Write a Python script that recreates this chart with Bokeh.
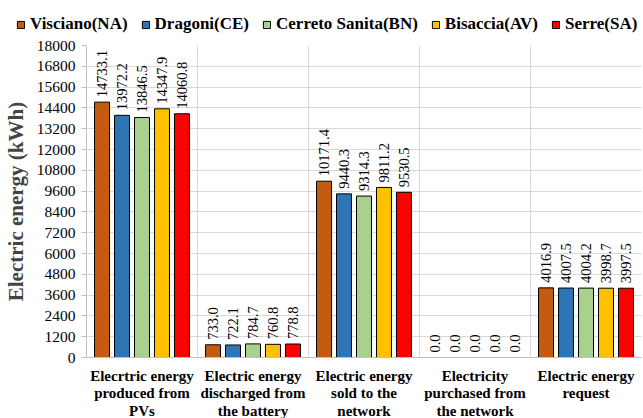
from bokeh.plotting import figure
from bokeh.layouts import column
from bokeh.models import (ColumnDataSource, FixedTicker, Range1d, Legend, LegendItem, Grid)
from bokeh.core.properties import value
from bokeh.embed import file_html
from bokeh.resources import INLINE
import math

categories = ["Elecrtric energy\nproduced from\nPVs",
              "Electric energy\ndischarged from\nthe battery",
              "Electric energy\nsold to the\nnetwork",
              "Electricity\npurchased from\nthe network",
              "Electric energy\nrequest"]
series = ["Visciano(NA)", "Dragoni(CE)", "Cerreto Sanita(BN)", "Bisaccia(AV)", "Serre(SA)"]
colors = ["#C55A11", "#2E75B6", "#A9D18E", "#FFC000", "#FF0000"]
visciano = [14733.1, 733.0, 10171.4, 0.0, 4016.9]
dragoni = [13972.2, 722.1, 9440.3, 0.0, 4007.5]
cerreto = [13846.5, 784.7, 9314.3, 0.0, 4004.2]
bisaccia = [14347.9, 760.8, 9811.2, 0.0, 3998.7]
serre = [14060.8, 778.8, 9530.5, 0.0, 3997.5]
values_all = [visciano, dragoni, cerreto, bisaccia, serre]
y_ticks = list(range(0, 18001, 1200))

FONT = "Liberation Serif"

p = figure(frame_width=555, frame_height=312, output_backend="svg", toolbar_location=None,
           x_range=Range1d(0, 5), y_range=Range1d(0, 18000),
           min_border_left=85, min_border_right=3, min_border_top=7, min_border_bottom=40)
p.outline_line_color = None
p.background_fill_color = "white"

offsets = [-0.36, -0.18, 0.0, 0.18, 0.36]
for s, col, vals, off in zip(series, colors, values_all, offsets):
    xs = [i + 0.5 + off for i in range(len(categories))]
    src = ColumnDataSource(dict(x=xs, top=vals, lab=[f"{v:.1f}" for v in vals]))
    p.vbar(x="x", top="top", width=0.135, source=src, fill_color=col,
           line_color="black", line_width=1)
    p.text(x="x", y="top", text="lab", source=src, angle=math.pi / 2,
           text_align="left", text_baseline="middle", y_offset=-5,
           text_font=value(FONT), text_font_size="14.5px", text_color="black")

# grids
p.xgrid.visible = False
p.ygrid.ticker = FixedTicker(ticks=y_ticks)
p.ygrid.grid_line_color = "#D9D9D9"
p.ygrid.grid_line_width = 1
vg = Grid(dimension=0, ticker=FixedTicker(ticks=[1, 2, 3, 4, 5]),
          grid_line_color="#D9D9D9", grid_line_width=1)
p.add_layout(vg)

# y axis
p.yaxis.ticker = FixedTicker(ticks=y_ticks)
p.yaxis.major_label_text_font = FONT
p.yaxis.major_label_text_font_size = "15.5px"
p.yaxis.major_label_text_color = "black"
p.yaxis.axis_line_color = "#BFBFBF"
p.yaxis.major_tick_line_color = "#BFBFBF"
p.yaxis.major_tick_in = 0
p.yaxis.major_tick_out = 5
p.yaxis.major_label_standoff = 6
p.yaxis.minor_tick_line_color = None
p.yaxis.axis_label = "Electric energy (kWh)"
p.yaxis.axis_label_text_font = FONT
p.yaxis.axis_label_text_font_style = "bold"
p.yaxis.axis_label_text_font_size = "21px"
p.yaxis.axis_label_standoff = 6

# x axis
p.xaxis.ticker = FixedTicker(ticks=[0.5, 1.5, 2.5, 3.5, 4.5])
p.xaxis.major_label_overrides = {0.5 + i: c for i, c in enumerate(categories)}
p.xaxis.major_label_text_font = FONT
p.xaxis.major_label_text_font_style = "bold"
p.xaxis.major_label_text_font_size = "15px"
p.xaxis.major_label_text_color = "black"
p.xaxis.major_label_text_line_height = 1.1
p.xaxis.major_tick_line_color = None
p.xaxis.minor_tick_line_color = None
p.xaxis.axis_line_color = "#BFBFBF"
p.xaxis.major_label_standoff = 4

# legend in a separate strip above the chart
lg = figure(width=643, height=38, output_backend="svg", toolbar_location=None,
            x_range=Range1d(0, 1), y_range=Range1d(0, 1),
            min_border=0, min_border_left=0, min_border_right=0,
            min_border_top=0, min_border_bottom=0)
lg.frame_align = False
lg.axis.visible = False
lg.grid.visible = False
lg.outline_line_color = None
items = []
for s, col in zip(series, colors):
    dr = lg.quad(left=[-5], right=[-4], bottom=[-5], top=[-4], fill_color=col,
                 line_color="black", line_width=1)
    items.append(LegendItem(label=s, renderers=[dr]))
legend = Legend(items=items, orientation="horizontal", location=(16, 4),
                label_text_font=FONT, label_text_font_style="bold",
                label_text_font_size="17px", label_text_color="black",
                glyph_width=9, glyph_height=9, label_standoff=5, spacing=13,
                padding=2, margin=0, border_line_color=None,
                background_fill_alpha=0)
lg.add_layout(legend)

layout = column(lg, p, spacing=0)
open("out.html", "w").write(file_html(layout, INLINE))
